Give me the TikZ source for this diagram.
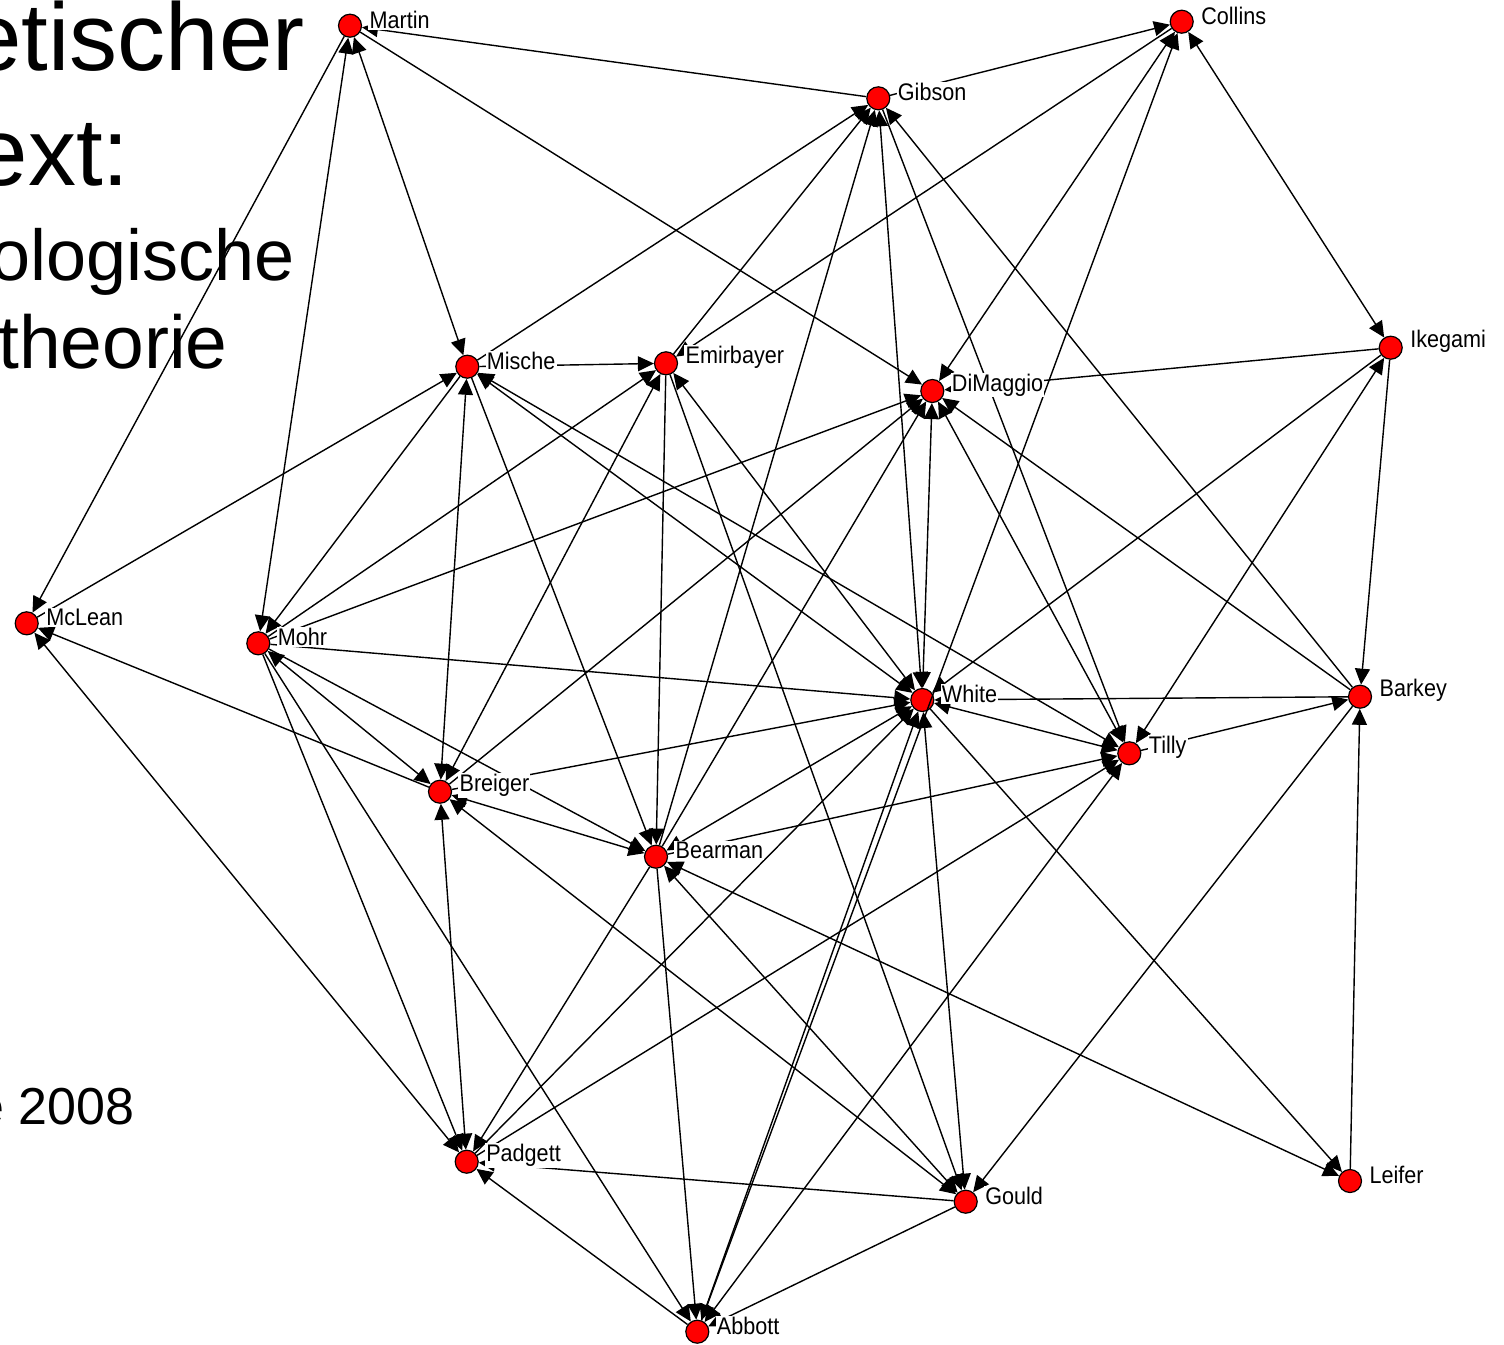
\documentclass[tikz,border=0pt]{standalone}
\usepackage{fontspec}
\setmainfont{Liberation Sans}
\newfontfamily\labfont[FakeStretch=0.9]{Liberation Sans}
\usetikzlibrary{arrows.meta}
\begin{document}
\begin{tikzpicture}[x=0.5pt,y=-0.5pt,
  person/.style={circle,fill=red,draw=black,line width=0.6pt,minimum size=11.5pt,inner sep=0pt},
  lab/.style={fill=white,inner sep=0.6pt,anchor=west,font=\labfont\fontsize{12}{12}\selectfont},
  slide/.style={inner sep=0pt,anchor=base east,font=\fontsize{48}{48}\selectfont},
  uni/.style={draw=black,line width=0.7pt,-{Triangle[length=8pt,width=7.5pt]}},
  bi/.style={draw=black,line width=0.7pt,{Triangle[length=8pt,width=7.5pt]}-{Triangle[length=8pt,width=7.5pt]}}]
\useasboundingbox (0,0) rectangle (1504,1344);
\clip (0,0) rectangle (1504,1344);
\fill[white] (0,0) rectangle (1504,1344);
% slide text cut by the frame
\node[slide] (t1) at (305,70) {etischer};
\node[slide] (t2) at (130,185) {ext:};
\node[slide,font=\fontsize{36}{36}\selectfont] (t3) at (295,280) {ologische};
\node[slide,font=\fontsize{37.5}{37.5}\selectfont] (t4) at (228,368) {theorie};
\node[slide,font=\fontsize{26}{26}\selectfont] (t5) at (135,1124) {e 2008};
% actors
\node[person] (Martin) at (350,25.7) {};
\node[person] (Collins) at (1181.7,21.7) {};
\node[person] (Gibson) at (878.3,98.3) {};
\node[person] (Ikegami) at (1390.7,347.7) {};
\node[person] (Mische) at (467.3,366.7) {};
\node[person] (Emirbayer) at (666,363.3) {};
\node[person] (DiMaggio) at (932.3,391) {};
\node[person] (McLean) at (26.7,623.3) {};
\node[person] (Mohr) at (258.3,643.3) {};
\node[person] (White) at (922.3,700) {};
\node[person] (Barkey) at (1360,696.7) {};
\node[person] (Tilly) at (1129.3,753.3) {};
\node[person] (Breiger) at (440,791.7) {};
\node[person] (Bearman) at (656,856.7) {};
\node[person] (Padgett) at (466.7,1161.7) {};
\node[person] (Gould) at (965.7,1201.7) {};
\node[person] (Leifer) at (1350,1181) {};
\node[person] (Abbott) at (697.3,1331.7) {};
% ties
\draw[uni] (Gibson) -- (Martin);
\draw[uni] (Martin) -- (McLean);
\draw[bi] (Martin) -- (Mohr);
\draw[bi] (Martin) -- (Mische);
\draw[uni] (Martin) -- (DiMaggio);
\draw[uni] (Gibson) -- (Collins);
\draw[uni] (Collins) -- (Emirbayer);
\draw[bi] (Collins) -- (DiMaggio);
\draw[uni] (Abbott) -- (Collins);
\draw[bi] (Collins) -- (Ikegami);
\draw[uni] (Ikegami) -- (DiMaggio);
\draw[uni] (Ikegami) -- (White);
\draw[bi] (Tilly) -- (Ikegami);
\draw[uni] (Ikegami) -- (Barkey);
\draw[uni] (Leifer) -- (Barkey);
\draw[uni] (Barkey) -- (Gould);
\draw[uni] (Tilly) -- (Barkey);
\draw[uni] (Barkey) -- (White);
\draw[uni] (Barkey) -- (Gibson);
\draw[uni] (Barkey) -- (DiMaggio);
\draw[uni] (Mohr) -- (DiMaggio);
\draw[bi] (DiMaggio) -- (White);
\draw[uni] (Breiger) -- (DiMaggio);
\draw[uni] (Bearman) -- (DiMaggio);
\draw[bi] (DiMaggio) -- (Tilly);
\draw[uni] (Mische) -- (Emirbayer);
\draw[uni] (Mische) -- (Gibson);
\draw[uni] (McLean) -- (Mische);
\draw[uni] (Mische) -- (Mohr);
\draw[bi] (Mische) -- (Breiger);
\draw[uni] (Mische) -- (Bearman);
\draw[bi] (Mische) -- (White);
\draw[bi] (Mische) -- (Tilly);
\draw[uni] (Emirbayer) -- (Gibson);
\draw[uni] (Mohr) -- (Emirbayer);
\draw[bi] (Emirbayer) -- (Breiger);
\draw[uni] (Emirbayer) -- (Bearman);
\draw[bi] (Emirbayer) -- (White);
\draw[uni] (Emirbayer) -- (Gould);
\draw[bi] (Gibson) -- (White);
\draw[uni] (Bearman) -- (Gibson);
\draw[uni] (Gibson) -- (Tilly);
\draw[uni] (Mohr) -- (White);
\draw[bi] (White) -- (Tilly);
\draw[uni] (Breiger) -- (White);
\draw[bi] (Bearman) -- (White);
\draw[uni] (Padgett) -- (White);
\draw[bi] (White) -- (Abbott);
\draw[bi] (White) -- (Gould);
\draw[uni] (White) -- (Leifer);
\draw[uni] (Bearman) -- (Tilly);
\draw[uni] (Padgett) -- (Tilly);
\draw[bi] (Abbott) -- (Tilly);
\draw[uni] (Mohr) -- (Bearman);
\draw[bi] (Mohr) -- (Breiger);
\draw[uni] (Breiger) -- (McLean);
\draw[bi] (Breiger) -- (Bearman);
\draw[bi] (Breiger) -- (Padgett);
\draw[bi] (Gould) -- (Breiger);
\draw[bi] (McLean) -- (Padgett);
\draw[uni] (Mohr) -- (Padgett);
\draw[uni] (Mohr) -- (Abbott);
\draw[uni] (Bearman) -- (Padgett);
\draw[uni] (Bearman) -- (Abbott);
\draw[bi] (Bearman) -- (Gould);
\draw[bi] (Bearman) -- (Leifer);
\draw[uni] (Abbott) -- (Padgett);
\draw[uni] (Gould) -- (Padgett);
\draw[uni] (Gould) -- (Abbott);
% names
\foreach \n in {Martin,Collins,Gibson,Ikegami,Mische,Emirbayer,DiMaggio,McLean,Mohr,White,Barkey,Tilly,Breiger,Bearman,Padgett,Gould,Leifer,Abbott}
  \node[lab] (\n-l) at ([shift={(18,-6)}]\n.center) {\n};
\end{tikzpicture}
\end{document}
